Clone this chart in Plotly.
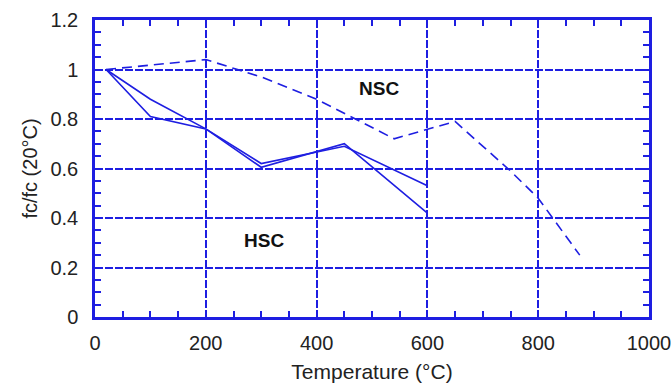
import plotly.graph_objects as go

# Data
hsc1_temp = [20, 100, 200, 300, 450, 600]
hsc1_ratio = [1.0, 0.88, 0.76, 0.62, 0.69, 0.53]
hsc2_temp = [20, 100, 200, 300, 450, 600]
hsc2_ratio = [1.0, 0.81, 0.76, 0.605, 0.70, 0.42]
nsc_temp = [20, 200, 300, 400, 540, 650, 750, 800, 875]
nsc_ratio = [1.0, 1.04, 0.97, 0.88, 0.72, 0.79, 0.59, 0.48, 0.25]

x_ticks = [0, 200, 400, 600, 800, 1000]
y_ticks = [0, 0.2, 0.4, 0.6, 0.8, 1.0, 1.2]
y_tick_labels = ["0", "0.2", "0.4", "0.6", "0.8", "1", "1.2"]

blue = "rgb(30,30,225)"
font_family = "Liberation Sans, Arial, sans-serif"
text_color = "#222"

fig = go.Figure()
fig.add_trace(go.Scatter(x=hsc1_temp, y=hsc1_ratio, mode="lines",
                         line=dict(color=blue, width=1.6), showlegend=False))
fig.add_trace(go.Scatter(x=hsc2_temp, y=hsc2_ratio, mode="lines",
                         line=dict(color=blue, width=1.6), showlegend=False))
fig.add_trace(go.Scatter(x=nsc_temp, y=nsc_ratio, mode="lines",
                         line=dict(color=blue, width=1.6, dash="10px,6px"), showlegend=False))

fig.add_annotation(x=513, y=0.925, text="<b>NSC</b>", showarrow=False,
                   font=dict(family=font_family, size=19, color="#111"))
fig.add_annotation(x=305, y=0.31, text="<b>HSC</b>", showarrow=False,
                   font=dict(family=font_family, size=19, color="#111"))

axis_common = dict(
    showline=True, linecolor=blue, linewidth=2.5, mirror="allticks",
    ticks="inside", ticklen=6, tickcolor=blue, tickwidth=1.5,
    showgrid=True, gridcolor=blue, gridwidth=1.5, griddash="8px,2px",
    zeroline=False, automargin=False,
    tickfont=dict(family=font_family, size=20, color=text_color),
)

fig.update_xaxes(range=[0, 1000], tickvals=x_ticks, ticklabelstandoff=6,
                 minor=dict(dtick=50, ticks="inside", ticklen=6, tickcolor=blue, tickwidth=1.5, showgrid=False),
                 title=dict(text="Temperature (°C)", font=dict(family=font_family, size=21, color=text_color), standoff=12),
                 **axis_common)
fig.update_yaxes(range=[0, 1.2], tickvals=y_ticks, ticktext=y_tick_labels, ticklabelstandoff=10,
                 minor=dict(dtick=0.05, ticks="inside", ticklen=6, tickcolor=blue, tickwidth=1.5, showgrid=False),
                 title=dict(text="fc/fc (20°C)", font=dict(family=font_family, size=20, color=text_color), standoff=8),
                 **axis_common)

fig.update_layout(
    width=672, height=385,
    margin=dict(l=95, r=23, t=20, b=68),
    plot_bgcolor="white", paper_bgcolor="white",
)

fig.write_html("out.html")
